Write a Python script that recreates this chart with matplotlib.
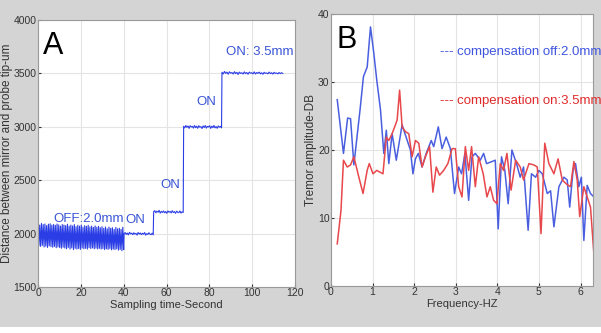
import numpy as np
import matplotlib.pyplot as plt
from matplotlib.patches import Rectangle

# panel A: distance signal (um), segment by segment
off_peaks = [2090, 2080, 2095, 2085, 2090, 2075, 2088, 2092, 2080, 2085,
             2078, 2090, 2082, 2070, 2085, 2080, 2075, 2088, 2070, 2080,
             2072, 2085, 2065, 2078, 2070, 2080, 2060, 2075, 2068, 2078,
             2062, 2070, 2058, 2072, 2060, 2068, 2055, 2065, 2050, 2062,
             2045, 2060, 2050, 2055, 2040, 2058, 2045, 2050, 2040, 2060]
off_troughs = [1885, 1880, 1890, 1875, 1882, 1870, 1885, 1878, 1872, 1880,
               1868, 1875, 1870, 1862, 1872, 1865, 1858, 1870, 1855, 1866,
               1850, 1862, 1855, 1860, 1852, 1865, 1858, 1862, 1855, 1868,
               1860, 1866, 1858, 1864, 1856, 1862, 1855, 1860, 1850, 1858,
               1852, 1860, 1848, 1855, 1850, 1858, 1845, 1852, 1840, 1850]
on_2000 = [2000, 2010, 1992, 2005, 1988, 2012, 1998, 2004, 1990, 2008,
           1995, 2002, 1986, 2010, 1996, 2006, 1990, 2003, 1994, 2010,
           1985, 2000, 1992, 2008, 1995, 1990, 2004, 1988]
on_2200 = [2205, 2215, 2195, 2210, 2200, 2218, 2192, 2208, 2198, 2212,
           2195, 2206, 2190, 2212, 2200, 2208, 2194, 2214, 2198, 2205,
           2190, 2210, 2200, 2196, 2212, 2192, 2204, 2198]
on_3000 = [3005, 2990, 3012, 2995, 3008, 2985, 3010, 2998, 3004, 2988,
           3012, 2992, 3006, 2986, 3010, 2996, 3002, 2984, 3008, 2994,
           3012, 2988, 3004, 2998, 3010, 2985, 3006, 2992, 3012, 2990,
           3002, 2986, 3008, 2996, 3004, 2990]
on_3500 = [3510, 3495, 3518, 3500, 3512, 3492, 3515, 3502, 3508, 3494,
           3516, 3498, 3510, 3490, 3512, 3500, 3506, 3494, 3514, 3498,
           3508, 3492, 3512, 3502, 3506, 3496, 3514, 3494, 3508, 3500,
           3512, 3496, 3506, 3492, 3510, 3500, 3504, 3496, 3512, 3498,
           3506, 3494, 3510, 3500, 3504, 3496, 3508, 3498, 3506, 3500]
seg_times = [(0, 40), (40.2, 53.8), (54, 67.8), (68, 85.7), (85.9, 114.3)]

# panel B: tremor spectra (dB)
f_off = [0.15, 0.30, 0.40, 0.47, 0.55, 0.70, 0.78, 0.87, 0.95, 1.03,
         1.10, 1.19, 1.27, 1.33, 1.39, 1.47, 1.57, 1.71, 1.80, 1.91,
         1.97, 2.03, 2.10, 2.19, 2.29, 2.41, 2.47, 2.58, 2.67, 2.77,
         2.87, 2.97, 3.07, 3.14, 3.22, 3.31, 3.39, 3.47, 3.59, 3.67,
         3.74, 3.87, 3.95, 4.02, 4.10, 4.18, 4.26, 4.35, 4.46, 4.55,
         4.63, 4.74, 4.82, 4.92, 5.00, 5.08, 5.20, 5.28, 5.36, 5.48,
         5.60, 5.68, 5.74, 5.82, 5.88, 5.96, 6.02, 6.08, 6.16, 6.24, 6.32]
db_off = [27.4, 19.5, 24.7, 24.6, 17.8, 26.0, 30.8, 32.2, 38.1, 34.2,
          30.3, 25.9, 19.5, 22.9, 18.0, 22.4, 18.5, 23.7, 22.0, 20.0,
          16.5, 18.7, 19.5, 17.5, 19.5, 21.4, 20.5, 23.4, 20.2, 21.9,
          20.2, 13.6, 17.5, 16.5, 19.5, 12.6, 19.0, 19.5, 18.5, 19.5,
          18.0, 18.3, 18.5, 8.4, 19.0, 17.0, 12.1, 20.0, 18.0, 16.0,
          17.5, 8.2, 16.5, 16.0, 17.0, 16.5, 13.6, 14.0, 8.7, 14.6,
          16.0, 15.6, 11.6, 17.0, 18.0, 14.6, 16.0, 6.7, 14.8, 13.6, 13.1]
f_on = [0.15, 0.24, 0.30, 0.39, 0.47, 0.55, 0.67, 0.77, 0.87, 0.92,
        1.01, 1.10, 1.25, 1.33, 1.39, 1.47, 1.59, 1.65, 1.71, 1.79,
        1.87, 1.95, 2.03, 2.11, 2.19, 2.27, 2.37, 2.45, 2.53, 2.61,
        2.71, 2.81, 2.91, 2.99, 3.07, 3.15, 3.23, 3.31, 3.38, 3.47,
        3.55, 3.66, 3.75, 3.83, 3.91, 3.99, 4.07, 4.15, 4.23, 4.33,
        4.44, 4.55, 4.63, 4.76, 4.88, 4.96, 5.05, 5.14, 5.24, 5.36,
        5.46, 5.56, 5.66, 5.76, 5.84, 5.92, 5.98, 6.08, 6.16, 6.24, 6.32]
db_on = [6.2, 11.1, 18.5, 17.5, 17.8, 19.0, 16.0, 13.6, 17.0, 18.0,
         16.5, 17.0, 16.5, 21.9, 21.4, 22.4, 24.4, 28.8, 23.4, 22.7,
         22.4, 19.0, 21.4, 21.0, 17.5, 19.0, 20.5, 13.8, 17.5, 16.3,
         17.0, 18.0, 20.2, 20.2, 14.6, 13.1, 20.5, 17.0, 20.5, 14.6,
         19.0, 16.5, 13.1, 14.6, 12.6, 12.1, 18.0, 17.0, 19.5, 14.1,
         18.5, 17.5, 15.6, 18.0, 17.8, 17.5, 7.7, 21.0, 18.0, 16.5,
         18.7, 15.6, 15.0, 14.6, 18.3, 15.6, 10.2, 14.6, 13.1, 11.6, 4.8]

plt.rcParams['font.family'] = ['Liberation Sans', 'DejaVu Sans']

fig = plt.figure(figsize=(6.01, 3.33), dpi=100, facecolor='#d4d4d4')
fig.patches.append(Rectangle((0, 0), 1, 6 / 333, transform=fig.transFigure,
                             facecolor='white', edgecolor='none', zorder=0))

axA = fig.add_axes([38 / 601, 46 / 333, 257 / 601, 267 / 333])
axB = fig.add_axes([331 / 601, 47 / 333, 262 / 601, 272 / 333])

# build panel A trace
osc = np.empty(len(off_peaks) * 2)
osc[0::2] = off_peaks
osc[1::2] = off_troughs
levels = [osc, on_2000, on_2200, on_3000, on_3500]
t_all, y_all = [], []
for (t0, t1), vals in zip(seg_times, levels):
    t_all.append(np.linspace(t0, t1, len(vals)))
    y_all.append(np.asarray(vals, dtype=float))
axA.plot(np.concatenate(t_all), np.concatenate(y_all), color='#2b3ee6', lw=0.8)

axA.set_xlim(0, 120)
axA.set_ylim(1500, 4000)
axA.set_xticks(range(0, 121, 20))
axA.set_yticks(range(1500, 4001, 500))
axA.set_xlabel('Sampling time-Second', fontsize=8, color='#333333', labelpad=1)
axA.set_ylabel('Distance between mirror and probe tip-um', fontsize=8.5, color='#333333', labelpad=0)

blue_txt = '#3a55d6'
axA.text(7, 2085, 'OFF:2.0mm', fontsize=9.5, color=blue_txt, va='bottom')
axA.text(41, 2075, 'ON', fontsize=9.5, color=blue_txt, va='bottom')
axA.text(57, 2400, 'ON', fontsize=9.5, color=blue_txt, va='bottom')
axA.text(74, 3180, 'ON', fontsize=9.5, color=blue_txt, va='bottom')
axA.text(88, 3640, 'ON: 3.5mm', fontsize=9.5, color=blue_txt, va='bottom')
axA.text(0.02, 0.96, 'A', transform=axA.transAxes, fontsize=22, va='top', color='black')

axB.plot(f_off, db_off, color='#4a5fe0', lw=1.1)
axB.plot(f_on, db_on, color='#e8474b', lw=1.1)
axB.set_xlim(0, 6.3)
axB.set_ylim(0, 40)
axB.set_xticks(range(0, 7))
axB.set_yticks(range(0, 41, 10))
axB.set_xlabel('Frequency-HZ', fontsize=8, color='#333333', labelpad=1)
axB.set_ylabel('Tremor amplitude-DB', fontsize=8.5, color='#333333', labelpad=1)
axB.text(0.02, 0.96, 'B', transform=axB.transAxes, fontsize=22, va='top', color='black')
axB.text(0.415, 0.86, '--- compensation off:2.0mm', transform=axB.transAxes,
         fontsize=9.5, color='#3f55e0', va='center')
axB.text(0.415, 0.68, '--- compensation on:3.5mm', transform=axB.transAxes,
         fontsize=9.5, color='#e02a2a', va='center')

for ax in (axA, axB):
    ax.set_facecolor('white')
    ax.grid(True, color='#e4e4e4', lw=0.8)
    ax.set_axisbelow(True)
    for s in ax.spines.values():
        s.set_color('#9a9a9a')
    ax.tick_params(labelsize=7.5, colors='#333333', length=2, pad=1, direction='in')

fig.savefig('out.png', dpi=100, facecolor=fig.get_facecolor())
